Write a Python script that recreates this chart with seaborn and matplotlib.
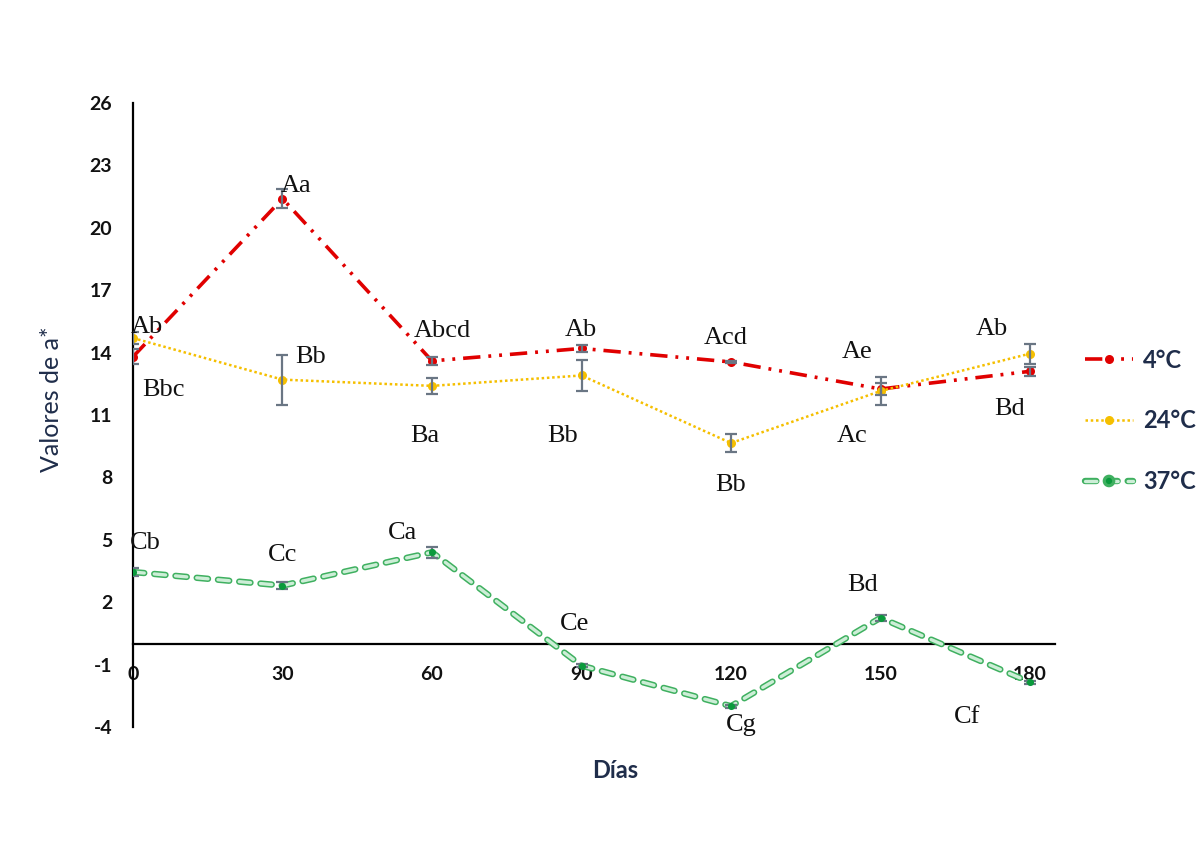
import matplotlib
matplotlib.use("Agg")
import matplotlib.pyplot as plt
import matplotlib.patheffects as pe
from matplotlib.lines import Line2D
import seaborn as sns

# ---- data -------------------------------------------------------------
days = [0, 30, 60, 90, 120, 150, 180]
series_names = ["4°C", "24°C", "37°C"]

a_4c = [13.8, 21.4, 13.6, 14.2, 13.55, 12.25, 13.1]
a_24c = [14.7, 12.7, 12.4, 12.9, 9.65, 12.15, 13.95]
a_37c = [3.45, 2.8, 4.4, -1.05, -3.0, 1.25, -1.85]

err_4c = [0.35, 0.45, 0.2, 0.15, 0.05, 0.3, 0.22]
err_24c = [0.3, 1.2, 0.38, 0.76, 0.44, 0.68, 0.48]
err_37c = [0.18, 0.17, 0.27, 0.08, 0.08, 0.15, 0.08]

letters_4c = ["Ab", "Aa", "Abcd", "Ab", "Acd", "Ae", "Bd"]
letters_24c = ["Bbc", "Bb", "Ba", "Bb", "Bb", "Ac", "Ab"]
letters_37c = ["Cb", "Cc", "Ca", "Ce", "Cg", "Bd", "Cf"]

y_ticks = [-4, -1, 2, 5, 8, 11, 14, 17, 20, 23, 26]
x_ticks = days

# ---- layout / style ---------------------------------------------------
# letter placement relative to each point, in pixels (dx, dy)
off_4c = [(14, 30), (14, 13), (10, 30), (-1, 18), (-5, 24), (-23, 37), (-20, -38)]
off_24c = [(30, -52), (28, 23), (-7, -50), (-19, -61), (0, -42), (-28, -45), (-38, 25)]
off_37c = [(12, 29), (0, 31), (-29, 19), (-7, 42), (10, -19), (-18, 33), (-63, -35)]

RED = "#e00000"
GOLD = "#f5bf00"
GREEN_EDGE = "#3fb060"
GREEN_FILL = "#cdeed7"
GREEN_DOT = "#0a9a3c"
ERR = "#6a7684"
NAVY = "#1f2d4a"

red_style = (0, (4.8, 2.2, 0.8, 2.2, 0.8, 2.2))
gold_style = (0, (1, 1.1))
green_style = (0, (3.4, 3.0))
green_fx = [pe.Stroke(linewidth=4.6, foreground=GREEN_EDGE), pe.Normal()]

sns.set_theme(style="white")
plt.rcParams["font.family"] = ["Lato", "DejaVu Sans"]

fig = plt.figure(figsize=(11.98, 8.47), dpi=100)
fig.patch.set_facecolor("white")
ax = fig.add_axes([0.111, 0.1417, 0.7696, 0.7367])

# spines first: moving the bottom spine resets the tick objects
for side in ["top", "right"]:
    ax.spines[side].set_visible(False)
ax.spines["bottom"].set_position(("data", 0))
for side in ["left", "bottom"]:
    ax.spines[side].set_color("black")
    ax.spines[side].set_linewidth(1.6)

# ---- lines --------------------------------------------------------------
sns.lineplot(x=days, y=a_4c, ax=ax, color=RED, linewidth=2.6, linestyle=red_style,
             marker="o", markersize=6.5, markeredgewidth=0, zorder=3)
sns.lineplot(x=days, y=a_24c, ax=ax, color=GOLD, linewidth=1.8, linestyle=gold_style,
             marker="o", markersize=6.5, markeredgewidth=0, zorder=3)
sns.lineplot(x=days, y=a_37c, ax=ax, color=GREEN_FILL, linewidth=2.4, linestyle=green_style,
             zorder=3)
green_line = ax.lines[-1]
green_line.set_dash_capstyle("round")
green_line.set_path_effects(green_fx)

for vals, errs in [(a_4c, err_4c), (a_24c, err_24c), (a_37c, err_37c)]:
    ax.errorbar(days, vals, yerr=errs, fmt="none", ecolor=ERR, elinewidth=1.6,
                capsize=4, capthick=1.6, zorder=4)

# point markers above the whiskers
sns.scatterplot(x=days, y=a_37c, ax=ax, color=GREEN_DOT, s=26, linewidth=0, zorder=5)

# ---- letters ------------------------------------------------------------
for vals, labels, offs in [(a_4c, letters_4c, off_4c),
                           (a_24c, letters_24c, off_24c),
                           (a_37c, letters_37c, off_37c)]:
    for d, v, lab, (dx, dy) in zip(days, vals, labels, offs):
        ax.annotate(lab, (d, v), xytext=(dx, dy), textcoords="offset pixels",
                    ha="center", va="center", fontsize=19,
                    family=["Liberation Serif", "DejaVu Serif"], color="#111111",
                    zorder=6)

# ---- axes ---------------------------------------------------------------
ax.set_xlim(0, 185)
ax.set_ylim(-4, 26)
ax.set_xticks(x_ticks)
ax.set_yticks(y_ticks)
ax.set_xticklabels([str(t) for t in x_ticks], fontsize=14, fontweight="bold",
                   color="#111111")
ax.set_yticklabels([str(t) for t in y_ticks], fontsize=14, fontweight="bold",
                   color="#111111")
ax.tick_params(axis="both", length=0)
ax.tick_params(axis="x", pad=16)
ax.tick_params(axis="y", pad=15)
ax.grid(False)
ax.set_facecolor("white")

ax.set_xlabel("Días", fontsize=17, fontweight="bold", color=NAVY, va="center")
ax.xaxis.set_label_coords(0.523, -0.069)
ax.set_ylabel("Valores de a*", fontsize=18, color=NAVY, va="center")
ax.yaxis.set_label_coords(-0.088, 0.526)

# ---- legend -------------------------------------------------------------
handles = [
    Line2D([], [], color=RED, linewidth=2.6, linestyle=red_style, marker="o",
           markersize=6.5, markeredgewidth=0),
    Line2D([], [], color=GOLD, linewidth=1.8, linestyle=gold_style, marker="o",
           markersize=6.5, markeredgewidth=0),
    Line2D([], [], color=GREEN_FILL, linewidth=2.4, linestyle=green_style,
           dash_capstyle="round", marker="o", markersize=4.5,
           markerfacecolor=GREEN_DOT, markeredgecolor=GREEN_DOT, markeredgewidth=0,
           path_effects=green_fx),
]
leg = fig.legend(handles, series_names, loc="center left",
                 bbox_to_anchor=(0.906, 0.503), frameon=False,
                 prop={"family": ["Lato", "DejaVu Sans"], "weight": "bold", "size": 17},
                 labelspacing=1.6, handlelength=2.0, handletextpad=0.45,
                 borderpad=0, borderaxespad=0)
for t in leg.get_texts():
    t.set_color(NAVY)

fig.savefig("out.png", dpi=100, facecolor="white")
